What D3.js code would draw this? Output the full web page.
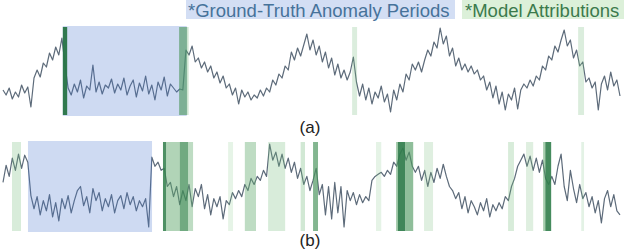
<!DOCTYPE html>
<html>
<head>
<meta charset="utf-8">
<script src="https://cdn.jsdelivr.net/npm/d3@7"></script>
<style>
  html, body { margin: 0; padding: 0; background: #fff; }
  svg { display: block; }
</style>
</head>
<body>
<div id="chart"></div>
<script>
var width = 624;
var height = 252;
var mainFont = '"Liberation Sans", Arial, Helvetica, sans-serif';

// series values (time index 0..199), height above panel floor
var seriesA = [
    25, 20, 27, 16, 23, 18, 30, 22, 28, 8, 37, 45, 38, 52, 48, 62, 55, 68, 60, 77,
    50, 27, 20, 31, 23, 35, 17, 29, 25, 50, 23, 33, 21, 30, 27, 36, 22, 31, 25, 37,
    20, 29, 35, 18, 32, 24, 39, 21, 30, 15, 33, 25, 38, 19, 31, 27, 23, 26, 25, 65,
    60, 69, 53, 57, 47, 53, 43, 49, 37, 43, 32, 39, 27, 31, 20, 27, 11, 25, 18, 23,
    15, 20, 17, 25, 19, 27, 23, 35, 30, 41, 37, 49, 45, 63, 55, 67, 59, 70, 81, 65,
    75, 60, 69, 53, 63, 47, 57, 40, 51, 37, 45, 35, 43, 58, 33, 19, 31, 15, 27, 11,
    23, 17, 29, 13, 21, 3, 25, 15, 31, 23, 41, 35, 51, 45, 53, 43, 55, 65, 59, 73,
    67, 87, 71, 79, 59, 67, 49, 57, 45, 51, 43, 49, 41, 45, 35, 39, 25, 33, 17, 29,
    11, 23, 5, 21, 15, 27, 6, 25, 31, 27, 35, 29, 39, 35, 49, 45, 59, 55, 69, 63,
    75, 85, 69, 75, 57, 65, 49, 53, 33, 37, 27, 33, 5, 31, 39, 25, 43, 29, 35, 19
];

var seriesB = [
    48, 65, 54, 72, 60, 76, 62, 75, 68, 35, 22, 34, 16, 30, 20, 36, 14, 28, 10, 32,
    22, 35, 18, 30, 40, 44, 25, 34, 18, 42, 30, 38, 20, 32, 24, 36, 18, 30, 35, 22,
    38, 26, 34, 20, 30, 24, 32, 4, 73, 64, 68, 60, 62, 44, 48, 34, 44, 26, 40, 30,
    46, 24, 42, 34, 46, 22, 36, 16, 32, 24, 34, 12, 30, 26, 38, 32, 40, 34, 46, 40,
    52, 46, 54, 50, 60, 54, 86, 70, 78, 64, 76, 62, 72, 58, 68, 52, 62, 46, 54, 40,
    50, 62, 36, 46, 16, 44, 12, 48, 18, 44, 4, 40, 30, 38, 26, 36, 28, 34, 30, 50,
    54, 56, 58, 54, 60, 56, 68, 64, 76, 82, 70, 78, 64, 58, 64, 50, 60, 44, 58, 48,
    62, 52, 66, 54, 44, 40, 32, 38, 22, 34, 18, 30, 24, 16, 28, 20, 32, 14, 26, 20,
    28, 22, 34, 30, 44, 52, 64, 70, 76, 64, 74, 60, 72, 58, 70, 52, 46, 54, 46, 64,
    76, 44, 30, 60, 42, 28, 46, 32, 38, 24, 34, 18, 30, 8, 32, 40, 24, 36, 20, 16
];

// ground-truth anomaly periods [start, end] in time index
var anomalyA = [[19.26, 59.26]];
var anomalyB = [[8.06, 48.06]];

// model attributions [start, end, weight]
var attributionsA = [
    [19.3, 20.7, 0.9],
    [56.8, 59.4, 0.5],
    [59.4, 59.9, 0.15],
    [112.6, 114.2, 0.12],
    [185.5, 187.4, 0.12]
];
var attributionsB = [
    [2.9, 5.8, 0.14],
    [51.6, 52.6, 0.75],
    [52.6, 57.0, 0.35],
    [57.0, 59.7, 0.62],
    [59.7, 61.3, 0.28],
    [72.6, 74.2, 0.05],
    [78.0, 81.6, 0.28],
    [85.5, 91.0, 0.14],
    [96.0, 97.4, 0.18],
    [100.0, 101.6, 0.55],
    [120.3, 122.0, 0.06],
    [126.8, 127.4, 0.45],
    [127.4, 129.7, 0.8],
    [129.7, 132.3, 0.5],
    [135.8, 138.7, 0.1],
    [162.9, 164.8, 0.14],
    [168.7, 171.0, 0.1],
    [174.2, 174.9, 0.4],
    [174.9, 176.8, 0.78],
    [186.5, 187.4, 0.07]
];

var legendLabels = ['*Ground-Truth Anomaly Periods', '*Model Attributions'];
var panelLabels = ['(a)', '(b)'];

var lineColor = '#5d6b7a';
var blueColor = '#4a78d0';
var greenFill = d3.interpolateRgb('#7cc47f', '#1e6b3f');

var svg = d3.select('#chart').append('svg')
    .attr('width', width)
    .attr('height', height);

var x = d3.scaleLinear().domain([0, seriesA.length - 1]).range([3, 620]);

function makePanel(series, anomalies, attributions, top, bottom, label, labelY) {
    var y = d3.scaleLinear().domain([0, 88]).range([bottom, top]);
    var g = svg.append('g');

    var line = d3.line()
        .x(function(d, i) { return x(i); })
        .y(function(d) { return y(d); });

    g.append('path')
        .datum(series)
        .attr('d', line)
        .attr('fill', 'none')
        .attr('stroke', lineColor)
        .attr('stroke-width', 1.2)
        .attr('stroke-linejoin', 'round');

    // anomaly periods
    g.selectAll('rect.anomaly')
        .data(anomalies)
        .enter().append('rect')
        .attr('class', 'anomaly')
        .attr('x', function(d) { return x(d[0]); })
        .attr('width', function(d) { return x(d[1]) - x(d[0]); })
        .attr('y', top - 1)
        .attr('height', bottom - top + 2)
        .attr('fill', blueColor)
        .attr('fill-opacity', 0.27);

    // attributions
    g.selectAll('rect.attr')
        .data(attributions)
        .enter().append('rect')
        .attr('class', 'attr')
        .attr('x', function(d) { return x(d[0]); })
        .attr('width', function(d) { return x(d[1]) - x(d[0]); })
        .attr('y', top)
        .attr('height', bottom - top)
        .attr('fill', function(d) { return greenFill(d[2]); })
        .attr('fill-opacity', function(d) { return Math.min(0.95, 0.13 + d[2]); });

    svg.append('text')
        .attr('x', 310)
        .attr('y', labelY)
        .style('font-family', mainFont)
        .style('font-size', '17px')
        .style('text-anchor', 'middle')
        .attr('fill', '#222')
        .text(label);
}

makePanel(seriesA, anomalyA, attributionsA, 27, 115, panelLabels[0], 132.5);
makePanel(seriesB, anomalyB, attributionsB, 142, 231, panelLabels[1], 245.5);

// legend
svg.append('rect')
    .attr('x', 186).attr('y', 0)
    .attr('width', 269).attr('height', 19)
    .attr('fill', '#d3def4');
svg.append('text')
    .attr('x', 188).attr('y', 16.5)
    .style('font-family', mainFont)
    .style('font-size', '18.5px')
    .attr('fill', '#46729a')
    .text(legendLabels[0]);

svg.append('rect')
    .attr('x', 462).attr('y', 0)
    .attr('width', 162).attr('height', 19)
    .attr('fill', '#dcf0d9');
svg.append('text')
    .attr('x', 465).attr('y', 16.5)
    .style('font-family', mainFont)
    .style('font-size', '18.5px')
    .attr('fill', '#3b7a4c')
    .text(legendLabels[1]);
</script>
</body>
</html>
